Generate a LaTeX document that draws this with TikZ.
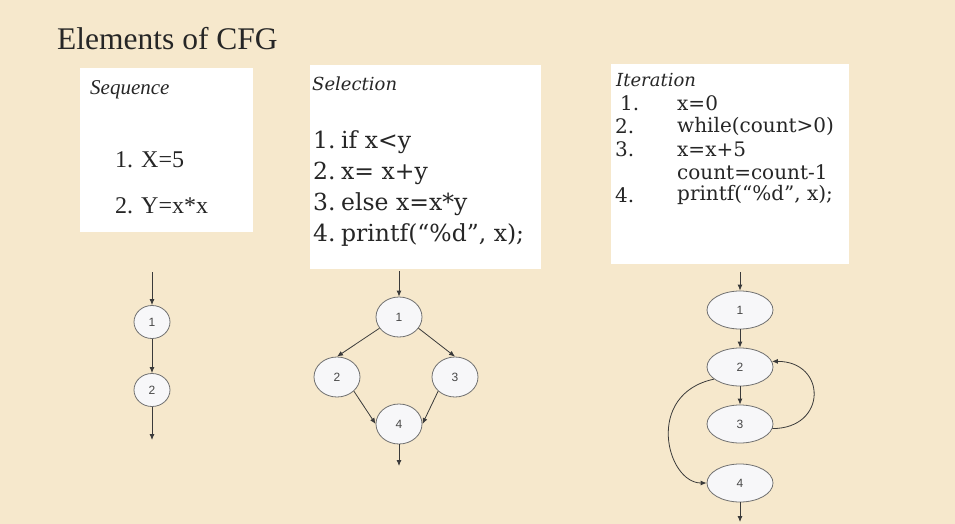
\documentclass[tikz,border=0pt]{standalone}
\usepackage{fontspec}
\setmainfont{Liberation Serif}
\newfontfamily\bookfont{DejaVu Serif}
\newfontfamily\arialfont{Liberation Sans}
\usetikzlibrary{shapes.geometric,arrows.meta}
\definecolor{bg}{HTML}{F6E8CC}
\definecolor{ink}{HTML}{262626}
\definecolor{edgecol}{HTML}{3A3A3A}
\definecolor{nodefill}{HTML}{F7F7F9}
\definecolor{nodeline}{HTML}{707070}
\begin{document}
\begin{tikzpicture}[x=1pt,y=-1pt,
  txt/.style={anchor=west,inner sep=0,text=ink},
  seqtxt/.style={txt,font=\fontsize{24}{24}\selectfont},
  seltxt/.style={txt,font=\bookfont\fontsize{23.5}{23.5}\selectfont},
  ittxt/.style={txt,font=\bookfont\fontsize{20}{20}\selectfont},
  boxlabel/.style={txt,font=\bookfont\itshape\fontsize{18}{18}\selectfont},
  cfgnode/.style={ellipse,draw=nodeline,line width=0.8pt,fill=nodefill,inner sep=0,
    font=\arialfont\fontsize{12}{12}\selectfont,text=ink!85},
  arr/.style={draw=edgecol,line width=0.8pt,-{Latex[length=6pt,width=5pt]}}]
\useasboundingbox (0,0) rectangle (955,524);
\fill[bg] (0,0) rectangle (955,524);
% title
\node[txt,font=\fontsize{31.5}{31.5}\selectfont,anchor=base west] (title) at (57,50) {Elements of CFG};
% boxes
\fill[white] (80,68) rectangle (253,232);
\fill[white] (310,65) rectangle (541,269);
\fill[white] (611,64) rectangle (849,264);
% sequence text
\node[txt,font=\itshape\fontsize{21}{21}\selectfont] (seqlbl) at (90,90) {Sequence};
\node[seqtxt] (seq1) at (115,160) {1. X=5};
\node[seqtxt] (seq2) at (115,206) {2. Y=x*x};
% selection text
\node[boxlabel] (sellbl) at (312,84) {Selection};
\node[seltxt] (sel1) at (313,142) {\makebox[28pt][l]{1.}if x<y};
\node[seltxt] (sel2) at (313,173) {\makebox[28pt][l]{2.}x= x+y};
\node[seltxt] (sel3) at (313,204) {\makebox[28pt][l]{3.}else x=x*y};
\node[seltxt] (sel4) at (313,235) {\makebox[28pt][l]{4.}printf(“\%d”, x);};
% iteration text
\node[boxlabel] (itlbl) at (616,80) {Iteration};
\node[ittxt] (it1n) at (620,103) {1.};
\node[ittxt] (it1) at (677,103) {x=0};
\node[ittxt] (it2n) at (615,126) {2.};
\node[ittxt] (it2) at (677,126) {while(count>0)};
\node[ittxt] (it3n) at (615,149) {3.};
\node[ittxt] (it3) at (677,149) {x=x+5};
\node[ittxt] (it3b) at (677,172) {count=count-1};
\node[ittxt] (it4n) at (615,195) {4.};
\node[ittxt] (it4) at (677,195) {printf(“\%d”, x);};
% sequence graph
\node[cfgnode,minimum width=36pt,minimum height=33pt] (s1) at (152,322) {1};
\node[cfgnode,minimum width=36pt,minimum height=33pt] (s2) at (152,390) {2};
\coordinate (sin) at (152,272);
\coordinate (sout) at (152,440);
\draw[arr] (sin) -- (s1);
\draw[arr] (s1) -- (s2);
\draw[arr] (s2) -- (sout);
% selection graph
\node[cfgnode,minimum width=46pt,minimum height=40pt] (c1) at (399,317) {1};
\node[cfgnode,minimum width=46pt,minimum height=40pt] (c2) at (337,377) {2};
\node[cfgnode,minimum width=46pt,minimum height=40pt] (c3) at (455,377) {3};
\node[cfgnode,minimum width=46pt,minimum height=40pt] (c4) at (399,424) {4};
\coordinate (cin) at (399,271);
\coordinate (cout) at (399,466);
\draw[arr] (cin) -- (c1);
\draw[arr] (c1.210) -- (c2.north);
\draw[arr] (c1.-30) -- (c3.north);
\draw[arr] (c2.-40) -- (c4.west);
\draw[arr] (c3.220) -- (c4.east);
\draw[arr] (c4) -- (cout);
% iteration graph
\node[cfgnode,minimum width=66pt,minimum height=38pt] (i1) at (740,310) {1};
\node[cfgnode,minimum width=66pt,minimum height=38pt] (i2) at (740,367) {2};
\node[cfgnode,minimum width=66pt,minimum height=38pt] (i3) at (740,424) {3};
\node[cfgnode,minimum width=66pt,minimum height=38pt] (i4) at (740,483) {4};
\coordinate (iin) at (740,272);
\coordinate (iout) at (740,522);
\draw[arr] (iin) -- (i1);
\draw[arr] (i1) -- (i2);
\draw[arr] (i2) -- (i3);
\draw[arr] (i3.-8) .. controls +(55,0) and +(55,0) .. (i2.10);
\draw[arr] (i2.205) .. controls +(-70,15) and +(-40,0) .. (i4.west);
\draw[arr] (i4) -- (iout);
\end{tikzpicture}
\end{document}
